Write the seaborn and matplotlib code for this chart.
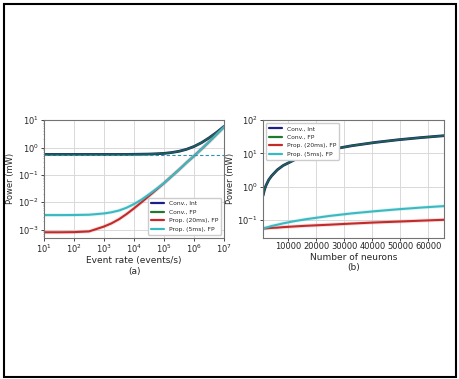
import numpy as np
import pandas as pd
import matplotlib
matplotlib.use("Agg")
import matplotlib.pyplot as plt
import seaborn as sns
from matplotlib.patches import Rectangle
from matplotlib.ticker import LogLocator, NullFormatter, NullLocator

# (a) power vs event rate, x given as log10(events/s)
rate_exp = [1, 1.5, 2, 2.5, 3, 3.25, 3.5, 3.75, 4, 4.25, 4.5, 4.75, 5, 5.25, 5.5, 5.75, 6, 6.25, 6.5, 6.75, 7]
conv_int_a = [0.56, 0.56, 0.56, 0.56, 0.56, 0.56, 0.56, 0.56, 0.565, 0.57, 0.576, 0.59, 0.61, 0.654, 0.728, 0.86, 1.09, 1.5, 2.24, 3.54, 5.86]
conv_fp_a = [0.56, 0.56, 0.56, 0.56, 0.56, 0.56, 0.56, 0.56, 0.565, 0.57, 0.576, 0.59, 0.61, 0.654, 0.728, 0.86, 1.09, 1.5, 2.24, 3.54, 5.86]
prop20_a = [8.0e-4, 8.0e-4, 8.1e-4, 8.6e-4, 1.3e-3, 1.7e-3, 2.4e-3, 3.7e-3, 6.0e-3, 1.0e-2, 1.7e-2, 2.9e-2, 5.0e-2, 8.8e-2, 0.155, 0.28, 0.49, 0.88, 1.6, 3.0, 5.6]
prop5_a = [3.4e-3, 3.4e-3, 3.42e-3, 3.5e-3, 3.9e-3, 4.3e-3, 5.0e-3, 6.3e-3, 8.6e-3, 1.25e-2, 1.95e-2, 3.1e-2, 5.0e-2, 8.8e-2, 0.155, 0.28, 0.49, 0.88, 1.6, 3.0, 5.6]
threshold_a = 0.53

# (b) power vs number of neurons
neurons = [1024, 1536, 2048, 3072, 4096, 6144, 8192, 12288, 16384, 24576, 32768, 40960, 49152, 57344, 65536]
conv_int_b = [0.53, 0.80, 1.06, 1.6, 2.1, 3.2, 4.3, 6.4, 8.5, 12.8, 17.0, 21.3, 25.6, 29.8, 34.0]
conv_fp_b = [0.53, 0.80, 1.06, 1.6, 2.1, 3.2, 4.3, 6.4, 8.5, 12.8, 17.0, 21.3, 25.6, 29.8, 34.0]
prop20_b = [0.054, 0.055, 0.055, 0.056, 0.057, 0.058, 0.060, 0.063, 0.066, 0.071, 0.077, 0.083, 0.088, 0.094, 0.100]
prop5_b = [0.054, 0.056, 0.058, 0.061, 0.065, 0.071, 0.078, 0.091, 0.104, 0.13, 0.156, 0.181, 0.207, 0.233, 0.258]

labels = ["Conv., Int", "Conv., FP", "Prop. (20ms), FP", "Prop. (5ms), FP"]
colors = ["#1b1f8a", "#1f7a2e", "#c42a2a", "#3bb9c1"]
widths = [2.0, 1.3, 1.5, 1.5]
alphas = [1, 0.75, 1, 1]

sns.set_theme(style="whitegrid", rc={
    "axes.edgecolor": ".45",
    "axes.linewidth": 0.8,
    "grid.color": ".85",
    "grid.linewidth": 0.7,
    "xtick.bottom": True,
    "ytick.left": True,
    "xtick.major.size": 2,
    "ytick.major.size": 2,
    "xtick.major.width": 0.6,
    "ytick.major.width": 0.6,
    "xtick.color": ".15",
    "ytick.color": ".15",
})
plt.rcParams["font.family"] = ["DejaVu Sans"]

fig = plt.figure(figsize=(4.59, 3.79), dpi=100)
ax1 = fig.add_axes([0.096, 0.373, 0.392, 0.310])
ax2 = fig.add_axes([0.573, 0.373, 0.394, 0.310])

rate = [10 ** e for e in rate_exp]
series_a = [conv_int_a, conv_fp_a, prop20_a, prop5_a]
series_b = [conv_int_b, conv_fp_b, prop20_b, prop5_b]

for ax, xs, series in [(ax1, rate, series_a), (ax2, neurons, series_b)]:
    for ys, lab, col, lw, al in zip(series, labels, colors, widths, alphas):
        if lab.startswith("Prop"):
            # soft halo like the scanned figure
            sns.lineplot(x=xs, y=ys, ax=ax, color=col, lw=2.8, alpha=0.15,
                         legend=False, errorbar=None)
        sns.lineplot(x=xs, y=ys, ax=ax, color=col, lw=lw, alpha=al, label=lab,
                     errorbar=None)

ax1.axhline(threshold_a, color="#2f93ad", lw=0.8, ls=(0, (3, 2)))

ax1.set_xscale("log")
ax1.set_yscale("log")
ax1.set_xlim(10, 1e7)
ax1.set_ylim(5.1e-4, 10)
ax1.yaxis.set_minor_locator(LogLocator(base=10, subs=np.arange(2, 10)))
ax1.yaxis.set_minor_formatter(NullFormatter())
ax1.tick_params(axis="y", which="minor", left=True, length=1, width=0.4, color=".5")
ax1.xaxis.set_minor_locator(NullLocator())

ax2.set_yscale("log")
ax2.set_xlim(1024, 65536)
ax2.set_ylim(2.9e-2, 100)
ax2.set_xticks([10000, 20000, 30000, 40000, 50000, 60000])
ax2.yaxis.set_minor_locator(NullLocator())

for ax in (ax1, ax2):
    ax.tick_params(labelsize=6, pad=1.5)
    ax.set_ylabel("Power (mW)", fontsize=6, labelpad=2)

ax1.set_xlabel("Event rate (events/s)\n(a)", fontsize=6.5, labelpad=1, linespacing=1.2)
ax2.set_xlabel("Number of neurons\n(b)", fontsize=6.5, labelpad=1, linespacing=1.2)

legend_kw = dict(fontsize=4.3, frameon=True, handlelength=2.2, borderpad=0.5,
                 labelspacing=0.55, fancybox=True, framealpha=1, edgecolor=".8")
ax1.legend(loc="lower right", **legend_kw)
ax2.legend(loc="upper left", **legend_kw)
for leg in (ax1.get_legend(), ax2.get_legend()):
    for line in leg.get_lines():
        line.set_linewidth(1.6)
        line.set_alpha(1)

# page border around the whole figure
fig.patches.append(Rectangle((3.5 / 459, 2.5 / 379), 452.5 / 459, 372.5 / 379,
                             transform=fig.transFigure, fill=False,
                             edgecolor="black", lw=1.5))

fig.savefig("out.png", dpi=100)
